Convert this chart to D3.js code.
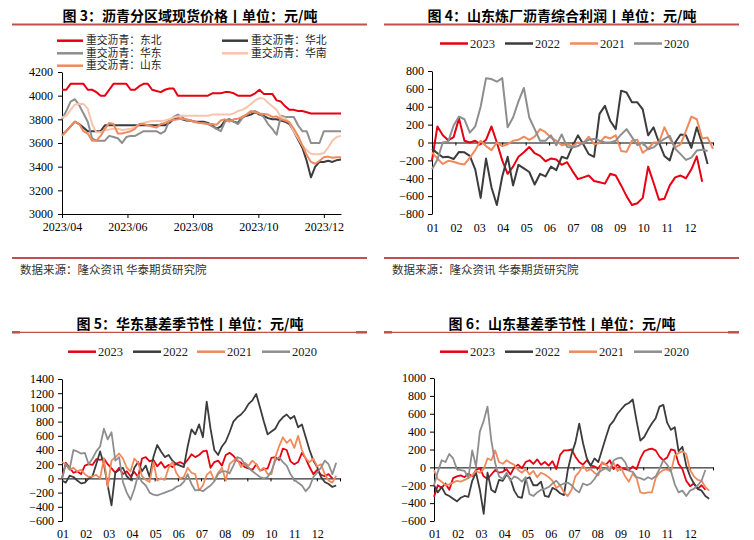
<!DOCTYPE html>
<html><head><meta charset="utf-8">
<script src="https://cdn.jsdelivr.net/npm/d3@7"></script>
<style>body{margin:0;background:#fff}</style>
</head><body>
<svg id="c" width="754" height="540" xmlns="http://www.w3.org/2000/svg"></svg>
<script>
// ---------------- DATA ----------------
// Panel 1: spot prices, sampled every 4 days from 2023-04-01
const p1Start = "2023-04-01";
const p1StepDays = 4;
const p1Names = ["重交沥青：东北","重交沥青：华北","重交沥青：华东","重交沥青：华南","重交沥青：山东"];
const p1NE = [4050,4050,4100,4100,4100,4100,4050,4050,4030,4000,
  4000,4050,4100,4100,4100,4100,4050,4050,4080,4100,
  4100,4050,4040,4030,4050,4060,4060,4000,4000,4000,
  4000,4000,4000,4000,4000,4020,4020,4020,4030,4030,
  4020,4000,4000,4000,4000,4020,4050,4015,4015,4015,
  3960,3950,3910,3880,3880,3870,3870,3860,3850,3850,
  3850,3850,3850,3850,3850,3850];
const p1NC = [3670,3700,3740,3780,3760,3730,3700,3700,3700,3700,
  3750,3750,3750,3750,3750,3750,3750,3750,3750,3750,
  3750,3750,3750,3750,3750,3770,3800,3810,3800,3790,
  3790,3780,3780,3780,3770,3750,3720,3740,3790,3800,
  3780,3770,3820,3830,3840,3860,3840,3830,3810,3800,
  3800,3790,3780,3760,3700,3630,3560,3450,3310,3400,
  3440,3440,3450,3440,3455,3460];
const p1EC = [3800,3870,3950,3970,3920,3850,3780,3640,3620,3620,
  3620,3660,3650,3640,3600,3650,3660,3660,3680,3700,
  3700,3700,3700,3680,3700,3790,3820,3840,3820,3790,
  3785,3780,3770,3770,3760,3740,3720,3700,3780,3800,
  3780,3760,3810,3840,3860,3870,3850,3820,3760,3720,
  3670,3830,3820,3820,3820,3750,3700,3700,3600,3600,
  3600,3700,3700,3700,3700,3700];
const p1SC = [3815,3830,3880,3925,3930,3930,3890,3760,3690,3690,
  3710,3715,3720,3720,3710,3715,3720,3730,3760,3770,
  3780,3785,3785,3785,3790,3800,3815,3825,3830,3830,
  3830,3830,3830,3830,3830,3840,3840,3840,3840,3840,
  3850,3870,3880,3900,3930,3960,3980,3975,3940,3910,
  3880,3820,3810,3770,3700,3640,3580,3540,3510,3505,
  3505,3515,3560,3620,3650,3660];
const p1SD = [3660,3700,3740,3780,3760,3700,3680,3620,3620,3660,
  3720,3770,3760,3680,3680,3690,3700,3720,3760,3760,
  3750,3740,3730,3760,3770,3785,3795,3800,3805,3800,
  3790,3775,3770,3765,3760,3760,3755,3790,3800,3780,
  3800,3805,3820,3840,3870,3860,3850,3845,3840,3820,
  3825,3800,3790,3775,3720,3660,3580,3500,3440,3425,
  3450,3480,3485,3475,3480,3480];
const p1YTicks = [3000,3200,3400,3600,3800,4000,4200];
const p1XTicks = ["2023-04-01","2023-06-01","2023-08-01","2023-10-01","2023-12-01"];

// Shared year legend / month labels
const years = ["2023","2022","2021","2020"];
const monthLabels = ["01","02","03","04","05","06","07","08","09","10","11","12"];

// Panel 2: weekly refinery profit
const p2_2023 = [-200,180,80,25,60,270,20,0,20,-20, 30,180,0,-200,-350,-270,-160,-110,-50,-120,
  -150,-210,-180,-190,-250,-220,-320,-410,-390,-370, -430,-445,-460,-350,-370,-480,-600,-700,-680,-620,
  -270,-450,-640,-630,-480,-390,-370,-400,-300,-155, -440];
const p2_2022 = [-70,-120,-165,-160,-185,-105,-110,-150,-300,-620, -180,-500,-700,-380,-160,-480,-250,-290,-330,-470,
  -350,-380,-270,-310,-160,-180,-40,80,-20,-130, -160,320,410,240,150,580,560,450,450,370,
  80,170,0,-150,-200,0,90,80,-60,170, -10,-240];
const p2_2021 = [-110,-180,-240,-205,-215,-235,-245,-170,-85,20, -40,-85,0,-40,-20,20,30,65,30,65,
  150,115,55,20,-30,-20,-40,0,-10,65, -20,-5,65,45,80,-95,-105,20,30,-115,
  -70,0,0,170,45,-55,-20,130,290,260, 45,55,-70];
const p2_2020 = [-300,-190,0,10,190,290,260,110,180,400, 720,710,680,720,170,280,460,610,280,150,
  20,20,80,-30,90,-50,-55,-40,0,30, 40,20,0,0,20,90,150,60,-30,0,
  -75,-55,0,40,75,-70,-130,-195,-170,-90, -80,-95];
const p2YTicks = [-800,-600,-400,-200,0,200,400,600,800];

// Panel 3: East China basis, sampled every 5 days
const p3_2023 = [0,220,150,80,100,60,180,200,190,270, 260,280,200,140,80,150,60,100,30,90,
  20,280,300,240,260,170,230,150,190,160, 210,230,200,260,340,300,330,380,390,150,
  230,250,180,330,360,320,250,220,160,140, 120,200,110,130,140,290,300,260,420,400,
  240,200,230,360,280,160,60,120,50,30, 60,0];
const p3_2022 = [-30,-60,40,20,-30,-70,-60,0,30,200, 380,200,-100,-380,80,120,150,30,-20,150,
  230,100,180,20,300,470,380,300,330,250, 200,180,160,450,690,620,760,580,1080,700,
  400,330,450,520,650,800,860,900,960,1050, 1100,1190,1000,800,620,660,700,800,860,900,
  840,880,720,760,580,400,250,160,20,-50, -80,-120,-100];
const p3_2021 = [230,200,120,150,100,120,60,20,30,50, 0,280,-120,250,300,350,280,150,100,280,
  220,30,-20,-50,230,-30,0,-20,150,230, 80,0,20,150,80,60,-170,-100,50,100,
  -30,80,150,-30,200,250,280,160,220,180, 250,200,110,150,60,60,300,450,580,500,
  550,430,600,400,280,230,280,170,200,60, -30,-60,40];
const p3_2020 = [0,200,130,400,380,350,360,200,280,380, 450,700,550,650,250,300,-50,-200,-300,-150,
  50,-50,-100,-200,-230,-240,-220,-200,-180,-160, -120,-100,-50,60,-80,-170,-160,-180,-140,-100,
  -40,60,100,100,70,180,300,280,200,150, 100,60,20,0,20,100,250,300,230,180,
  60,-20,-60,-100,-180,-120,20,80,150,250, 200,60,220];
const p3YTicks = [-600,-400,-200,0,200,400,600,800,1000,1200,1400];

// Panel 4: Shandong basis, sampled every 5 days
const p4_2023 = [-330,-200,-230,-180,-250,-120,-100,-90,-110,-70, -100,-30,-10,-100,-130,-80,-30,-60,-50,-20,
  -80,0,30,-10,60,80,40,90,30,60, 20,70,-20,140,190,190,200,120,60,30,
  80,20,10,-10,50,30,80,-20,30,-10, -20,-30,10,-20,100,180,200,210,190,120,
  80,110,200,190,40,-20,-150,-210,-180,-240, -200,-250];
const p4_2022 = [-200,-280,-220,-300,-320,-350,-380,-340,-320,-330, -150,-60,-250,-520,-60,-250,-280,-140,-150,-80,
  -130,-260,-330,-340,-130,-110,-200,-200,-160,-320, -330,-230,-250,-290,-310,-30,150,280,490,270,
  100,20,100,60,200,340,470,520,600,650, 700,720,760,520,300,340,420,490,550,680,
  700,500,420,450,180,230,20,-100,-180,-240, -260,-320,-350];
const p4_2021 = [-30,-130,-160,-200,-190,-170,-150,-160,-140,-120, -90,-40,-60,-20,100,80,190,60,40,80,
  50,30,-30,-60,-20,-80,-40,-110,-60,-80, -110,-150,-230,-200,-280,-320,-250,-100,-50,20,
  -40,-20,-60,-90,60,30,-10,50,-40,-10, -100,-160,-70,-120,-280,-290,-280,-280,-120,-60,
  -30,-20,-50,130,160,180,150,-30,-100,-140, -150,-220,-260];
const p4_2020 = [-200,-50,80,60,150,100,-20,-30,-40,-120, 190,10,400,520,680,300,50,-100,-130,-60,
  -150,-100,-120,-160,-110,-300,-320,-280,-250,-240, -220,-180,-150,-200,-180,-170,-200,-250,-280,-180,
  -200,-180,-130,-60,-30,-10,-40,80,100,110, 60,-40,-50,-110,-120,-140,-110,-130,-100,-20,
  80,30,-40,-190,-280,-260,-320,-260,-240,-200, -150,-30];
const p4YTicks = [-600,-400,-200,0,200,400,600,800,1000];
const basisStepDays = 5;

// ---------------- STYLE ----------------
const C_RED = "#e60012", C_DARK = "#3c3c3c", C_ORANGE = "#f08a5d", C_GRAY = "#8e8e8e", C_PINK = "#f9c4ae";
const RULE = "#c0504d";
const FNUM = "'Liberation Serif','Times New Roman',serif";
const FCJK = "'Noto Sans CJK SC','Noto Sans',sans-serif";
const yearColors = [C_RED, C_DARK, C_ORANGE, C_GRAY];
const fmt = d3.format("d");

const svg = d3.select("#c");
svg.append("rect").attr("width",754).attr("height",540).attr("fill","#fff");

function title(text, cx, y) {
  svg.append("text").attr("x", cx).attr("y", y).attr("text-anchor","middle")
    .attr("font-family", FCJK).attr("font-weight","bold").attr("font-size",14)
    .attr("fill","#000").text(text);
}
function rule(x1, x2, y, w) {
  svg.append("line").attr("x1",x1).attr("x2",x2).attr("y1",y).attr("y2",y)
    .attr("stroke",RULE).attr("stroke-width",w);
}
function source(x, y) {
  svg.append("text").attr("x",x).attr("y",y).attr("dy","0.35em")
    .attr("font-family",FCJK).attr("font-size",11.5).attr("fill","#333")
    .text("数据来源：隆众资讯  华泰期货研究院");
}
function styleAxis(g) {
  g.attr("font-family", FNUM).attr("font-size", 12);
  g.select(".domain").attr("stroke","#000").attr("stroke-width",1);
  g.selectAll(".tick line").attr("stroke","#000");
  g.selectAll(".tick text").attr("fill","#000");
}
function yearLegend(items, y) {
  items.forEach((it, i) => {
    svg.append("line").attr("x1",it.x).attr("x2",it.x+28).attr("y1",y).attr("y2",y)
      .attr("stroke",yearColors[i]).attr("stroke-width",2.5);
    svg.append("text").attr("x",it.x+30).attr("y",y).attr("dy","0.35em")
      .attr("font-family",FNUM).attr("font-size",12.5).attr("fill","#222").text(years[i]);
  });
}
function drawLine(data, x, y, color, w) {
  svg.append("path").datum(data)
    .attr("fill","none").attr("stroke",color).attr("stroke-width",w)
    .attr("stroke-linejoin","round")
    .attr("d", d3.line().x(d => x(d[0])).y(d => y(d[1])));
}

// ---------------- PANEL 1 ----------------
(function(){
  title("图 3：沥青分区域现货价格丨单位：元/吨", 190, 20.5);
  rule(12, 367, 24.5, 2);
  const parse = d3.timeParse("%Y-%m-%d");
  const t0 = parse(p1Start);
  const x = d3.scaleTime().domain([t0, d3.timeDay.offset(t0, 260)]).range([62, 341]);
  const y = d3.scaleLinear().domain([3000, 4200]).range([214, 72]);
  const gy = svg.append("g").attr("transform","translate(62,0)")
    .call(d3.axisLeft(y).tickValues(p1YTicks).tickFormat(fmt).tickSize(4).tickSizeOuter(0).tickPadding(5));
  styleAxis(gy);
  const gx = svg.append("g").attr("transform","translate(0,214)")
    .call(d3.axisBottom(x).tickValues(p1XTicks.map(parse)).tickFormat(d3.timeFormat("%Y/%m"))
      .tickSize(4).tickSizeOuter(0).tickPadding(4));
  styleAxis(gx);
  const series = [p1NE, p1NC, p1EC, p1SC, p1SD];
  const colors = [C_RED, C_DARK, C_GRAY, C_PINK, C_ORANGE];
  series.forEach((s, k) => {
    const data = s.map((v, i) => [d3.timeDay.offset(t0, i * p1StepDays), v]);
    drawLine(data, x, y, colors[k], 2);
  });
  const lp = [[57,40.7],[222,40.7],[57,53.3],[222,53.3],[57,65.7]];
  p1Names.forEach((n, k) => {
    svg.append("line").attr("x1",lp[k][0]).attr("x2",lp[k][0]+26).attr("y1",lp[k][1]).attr("y2",lp[k][1])
      .attr("stroke",colors[k]).attr("stroke-width",2.5);
    svg.append("text").attr("x",lp[k][0]+29).attr("y",lp[k][1]).attr("dy","0.35em")
      .attr("font-family",FCJK).attr("font-size",10.8).attr("fill","#222").text(n);
  });
  rule(12, 367, 258, 2);
  source(20, 270);
})();

// ---------------- PANEL 2 ----------------
(function(){
  title("图 4：山东炼厂沥青综合利润丨单位：元/吨", 562, 20.5);
  rule(384, 739, 24.5, 2);
  yearLegend([{x:440},{x:505},{x:570},{x:634}], 43.5);
  const x = d3.scaleLinear().domain([0, 52]).range([432, 713]);
  const y = d3.scaleLinear().domain([-800, 800]).range([214, 71]);
  const gy = svg.append("g").attr("transform","translate(432,0)")
    .call(d3.axisLeft(y).tickValues(p2YTicks).tickFormat(fmt).tickSize(4).tickSizeOuter(0).tickPadding(4));
  styleAxis(gy);
  const mpos = monthLabels.map((m, i) => i * 52 / 12);
  const gz = svg.append("g").attr("transform","translate(0," + y(0) + ")")
    .call(d3.axisBottom(x).tickValues(mpos.concat([52])).tickFormat("").tickSize(3).tickSizeOuter(0));
  styleAxis(gz);
  [p2_2023, p2_2022, p2_2021, p2_2020].forEach((s, k) => {
    drawLine(s.map((v, i) => [i, v]), x, y, yearColors[k], 2);
  });
  svg.append("g").selectAll("text").data(monthLabels).join("text")
    .attr("x", (d, i) => x(mpos[i]) + 1).attr("y", 227.5).attr("dy","0.35em").attr("text-anchor","middle")
    .attr("font-family",FNUM).attr("font-size",12).attr("fill","#000").text(d => d);
  rule(384, 739, 258, 2);
  source(392, 270);
})();

// ---------------- PANELS 3 & 4 ----------------
function basisPanel(cfg) {
  title(cfg.title, cfg.cx, 328.5);
  rule(cfg.r1, cfg.r2, 332.3, 1.2);
  rule(cfg.r1, cfg.r1 + 8, 332.3, 2.5);
  rule(cfg.r2 - 11, cfg.r2, 332.3, 2.5);
  yearLegend(cfg.legend, 351.7);
  const x = d3.scaleLinear().domain([0, 365]).range([cfg.x0, cfg.x1]);
  const y = d3.scaleLinear().domain(cfg.yDom).range([521, cfg.yTop]);
  const gy = svg.append("g").attr("transform","translate(" + cfg.x0 + ",0)")
    .call(d3.axisLeft(y).tickValues(cfg.yTicks).tickFormat(fmt).tickSize(4).tickSizeOuter(0).tickPadding(4));
  styleAxis(gy);
  const mpos = monthLabels.map((m, i) => i * 365 / 12);
  const gz = svg.append("g").attr("transform","translate(0," + y(0) + ")")
    .call(d3.axisBottom(x).tickValues(mpos.concat([365])).tickFormat("").tickSize(3).tickSizeOuter(0));
  styleAxis(gz);
  cfg.series.forEach((s, k) => {
    drawLine(s.map((v, i) => [i * basisStepDays, v]), x, y, yearColors[k], 1.8);
  });
  svg.append("g").selectAll("text").data(monthLabels).join("text")
    .attr("x", (d, i) => x(mpos[i]) + 1).attr("y", 533.5).attr("dy","0.35em").attr("text-anchor","middle")
    .attr("font-family",FNUM).attr("font-size",12).attr("fill","#000").text(d => d);
}
basisPanel({title:"图 5：华东基差季节性丨单位：元/吨", cx:190, r1:12, r2:367,
  legend:[{x:68},{x:133},{x:197},{x:262}], x0:62, x1:340, yDom:[-600,1400], yTop:379,
  yTicks:p3YTicks, series:[p3_2023, p3_2022, p3_2021, p3_2020]});
basisPanel({title:"图 6：山东基差季节性丨单位：元/吨", cx:562, r1:384, r2:739,
  legend:[{x:440},{x:505},{x:569},{x:634}], x0:434, x1:713, yDom:[-600,1000], yTop:378,
  yTicks:p4YTicks, series:[p4_2023, p4_2022, p4_2021, p4_2020]});
</script>
</body></html>
